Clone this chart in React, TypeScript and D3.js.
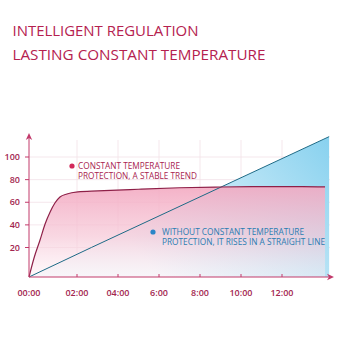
import React from 'react';
import * as d3 from 'd3';

const titleLines = ['INTELLIGENT REGULATION', 'LASTING CONSTANT TEMPERATURE'];
const xTickHours = [0, 2, 4, 6, 8, 10, 12];
const xTickLabels = ['00:00', '02:00', '04:00', '6:00', '8:00', '10:00', '12:00'];
const yTicks = [20, 40, 60, 80, 100];
const constantHours = [0, 0.21, 0.46, 0.67, 0.88, 1.08, 1.29, 1.58, 2.04, 3, 5, 7, 9, 11, 13, 14.1];
const constantValues = [0, 12.9, 26.6, 40.8, 51.4, 59.3, 64.7, 67.3, 69.1, 70, 71.5, 72.8, 73.5, 73.8, 73.8, 73.6];
const linearHours = [0, 2.7, 14.3];
const linearValues = [0, 20, 118];
const note1 = ['CONSTANT TEMPERATURE', 'PROTECTION, A STABLE TREND'];
const note2 = ['WITHOUT CONSTANT TEMPERATURE', 'PROTECTION, IT RISES IN A STRAIGHT LINE'];

const W = 340;
const H = 340;
const FONT = "'Open Sans', 'Noto Sans', sans-serif";

export default function App() {
  const x = d3.scaleLinear().domain([0, 2, 12]).range([29, 77, 282]);
  const y = d3.scaleLinear().domain([0, 20, 100]).range([277, 247.5, 157]);
  const x0 = x(0);
  const y0 = y(0);
  const xEnd = 334;
  const yTop = 133;

  const red = constantHours.map((h, i) => [h, constantValues[i]] as [number, number]);
  const blue = linearHours.map((h, i) => [h, linearValues[i]] as [number, number]);

  const redLine = d3.line<[number, number]>().x(d => x(d[0])).y(d => y(d[1])).curve(d3.curveMonotoneX)(red) || '';
  const redArea = d3.area<[number, number]>().x(d => x(d[0])).y0(y0).y1(d => y(d[1])).curve(d3.curveMonotoneX)(red) || '';
  const blueLine = d3.line<[number, number]>().x(d => x(d[0])).y(d => y(d[1]))(blue) || '';
  const blueArea = d3.area<[number, number]>().x(d => x(d[0])).y0(y0).y1(d => y(d[1]))(blue) || '';

  const axisColor = '#c23a6b';
  const labelColor = '#a3264f';

  return (
    <svg width={W} height={H} style={{ position: 'absolute', left: 0, top: 0, background: '#fff' }}>
      <defs>
        <linearGradient id="pinkGrad" gradientUnits="userSpaceOnUse" x1="0" y1={y(74)} x2="0" y2={y0}>
          <stop offset="0" stopColor="#f3a9c1" stopOpacity="0.9" />
          <stop offset="0.55" stopColor="#f6c6d6" stopOpacity="0.7" />
          <stop offset="1" stopColor="#fdf1f5" stopOpacity="0.45" />
        </linearGradient>
        <linearGradient id="blueGrad" gradientUnits="userSpaceOnUse" x1={x(14)} y1={y(118)} x2={x(6)} y2={y0}>
          <stop offset="0" stopColor="#8ad2ef" />
          <stop offset="0.6" stopColor="#cbebf8" />
          <stop offset="1" stopColor="#f3fafd" />
        </linearGradient>
      </defs>

      {/* title */}
      {titleLines.map((t, i) => (
        <text key={t} x={12.5} y={36 + i * 24} fontFamily={FONT} fontSize={14} fill="#b5214f"
          textLength={i === 0 ? 186 : 253} lengthAdjust="spacingAndGlyphs">{t}</text>
      ))}

      {/* grid */}
      {yTicks.map(v => (
        <line key={'gy' + v} x1={x0} x2={xEnd - 4} y1={y(v)} y2={y(v)} stroke="#f2e1e7" strokeWidth={0.8} />
      ))}
      {xTickHours.slice(1).map(h => (
        <line key={'gx' + h} x1={x(h)} x2={x(h)} y1={140} y2={y0} stroke="#f2e1e7" strokeWidth={0.8} />
      ))}

      {/* areas */}
      <path d={blueArea} fill="url(#blueGrad)" />
      <path d={redArea} fill="url(#pinkGrad)" />

      {/* lines */}
      <path d={blueLine} fill="none" stroke="#1d6a86" strokeWidth={1} />
      <path d={redLine} fill="none" stroke="#8e2048" strokeWidth={1.2} />

      {/* axes */}
      <line x1={x0} x2={xEnd - 3} y1={y0} y2={y0} stroke={axisColor} strokeWidth={1} />
      <polygon points={`${xEnd},${y0} ${xEnd - 7},${y0 - 3.2} ${xEnd - 5},${y0} ${xEnd - 7},${y0 + 3.2}`} fill={axisColor} />
      <line x1={x0} x2={x0} y1={y0} y2={yTop + 3} stroke={axisColor} strokeWidth={1} />
      <polygon points={`${x0},${yTop} ${x0 - 3.2},${yTop + 7} ${x0},${yTop + 5} ${x0 + 3.2},${yTop + 7}`} fill={axisColor} />

      {xTickHours.slice(1).map(h => (
        <line key={'tx' + h} x1={x(h)} x2={x(h)} y1={y0 - 3} y2={y0} stroke={axisColor} strokeWidth={1} />
      ))}
      {yTicks.map(v => (
        <line key={'ty' + v} x1={x0 - 4} x2={x0} y1={y(v)} y2={y(v)} stroke={axisColor} strokeWidth={1} />
      ))}

      {xTickHours.map((h, i) => (
        <text key={'lx' + h} x={x(h)} y={296} textAnchor="middle" fontFamily={FONT} fontSize={9} fontWeight={600} fill={labelColor}>{xTickLabels[i]}</text>
      ))}
      {yTicks.map(v => (
        <text key={'ly' + v} x={20} y={y(v) + 3.2} textAnchor="end" fontFamily={FONT} fontSize={9} fontWeight={600} fill={labelColor}>{v}</text>
      ))}

      {/* annotations */}
      <circle cx={72} cy={166} r={2.6} fill="#d2285a" />
      {note1.map((t, i) => (
        <text key={t} x={78} y={169 + i * 9.5} fontFamily={FONT} fontSize={8.3} fill="#a8234f"
          textLength={i === 0 ? 102 : 119} lengthAdjust="spacingAndGlyphs">{t}</text>
      ))}
      <circle cx={153} cy={232} r={2.6} fill="#2b86c8" />
      {note2.map((t, i) => (
        <text key={t} x={162} y={235 + i * 10} fontFamily={FONT} fontSize={8.3} fill="#2a7db2"
          textLength={i === 0 ? 142 : 163} lengthAdjust="spacingAndGlyphs">{t}</text>
      ))}
    </svg>
  );
}
